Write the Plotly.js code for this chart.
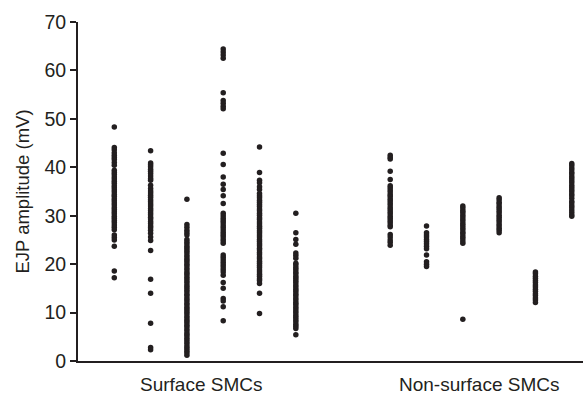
<!DOCTYPE html>
<html>
<head>
<meta charset="utf-8">
<script src="https://cdn.plot.ly/plotly-3.0.1.min.js"></script>
<style>
  html, body { margin: 0; padding: 0; background: #fff; }
  #chart { width: 583px; height: 398px; }
</style>
</head>
<body>
<div id="chart"></div>
<script>
// Group labels
const groups = ["Surface SMCs", "Non-surface SMCs"];

// Surface SMCs – EJP amplitudes (mV), one array per cell
const surface1 = [48.3, 44.1, 43.6, 43.0, 42.5, 42.0, 41.6, 41.0, 40.4, 39.4, 38.9, 38.5, 38.0, 37.6,
  37.1, 36.7, 36.2, 35.8, 35.3, 34.9, 34.4, 34.0, 33.5, 33.1, 32.6, 32.2, 31.7, 31.3, 30.8, 30.4,
  29.9, 29.5, 29.0, 28.6, 28.1, 27.6, 27.1, 26.0, 25.5, 25.0, 23.7, 18.6, 17.2];
const surface2 = [43.4, 40.9, 40.5, 40.1, 39.6, 39.2, 38.7, 38.2, 37.7, 37.3, 36.3, 35.6, 35.1, 34.7,
  34.2, 33.8, 33.3, 32.9, 32.4, 32.0, 31.5, 31.1, 30.6, 30.2, 29.7, 29.3, 28.8, 28.4, 27.9, 27.5,
  27.0, 26.4, 25.6, 24.9, 22.8, 16.9, 14.0, 7.8, 2.8, 2.3];
const surface3 = [33.4, 28.2, 27.6, 27.0, 26.5, 26.0, 25.1, 24.6, 24.2, 23.7, 23.3, 22.8, 22.4, 21.9,
  21.5, 21.0, 20.6, 20.1, 19.7, 19.2, 18.8, 18.3, 17.9, 17.4, 17.0, 16.5, 16.1, 15.6, 15.2, 14.7,
  14.3, 13.8, 13.4, 12.9, 12.5, 12.0, 11.6, 11.1, 10.7, 10.2, 9.8, 9.3, 8.9, 8.4, 8.0, 7.5, 7.1,
  6.6, 6.2, 5.7, 5.3, 4.8, 4.4, 3.9, 3.5, 3.0, 2.6, 2.1, 1.7, 1.2];
const surface4 = [64.4, 63.8, 63.2, 62.5, 55.4, 53.8, 53.2, 52.6, 52.1, 42.9, 40.6, 38.0, 36.5, 35.4,
  34.1, 32.5, 30.5, 30.0, 29.5, 29.0, 28.6, 28.1, 27.6, 27.1, 26.6, 26.1, 25.7, 25.2, 24.8, 24.3,
  21.9, 21.4, 20.9, 20.4, 19.9, 19.4, 18.9, 18.4, 17.7, 16.2, 15.0, 12.9, 12.4, 11.2, 8.3];
const surface5 = [44.2, 38.9, 37.3, 36.8, 36.0, 35.4, 34.6, 34.1, 33.7, 33.2, 32.8, 32.3, 31.9, 31.4,
  31.0, 30.5, 30.1, 29.6, 29.2, 28.7, 28.3, 27.8, 27.4, 26.9, 26.5, 26.0, 25.6, 25.1, 24.7, 24.2,
  23.8, 23.3, 22.9, 22.4, 22.0, 21.5, 21.1, 20.6, 20.2, 19.7, 19.3, 18.8, 18.4, 17.9, 17.5, 17.0,
  16.6, 16.0, 14.0, 9.8];
const surface6 = [30.5, 26.5, 25.1, 24.1, 22.3, 21.8, 21.2, 20.2, 19.8, 19.3, 18.9, 18.4, 18.0, 17.5,
  17.1, 16.6, 16.2, 15.7, 15.3, 14.8, 14.4, 13.9, 13.5, 13.0, 12.6, 12.1, 11.7, 11.2, 10.8, 10.3,
  9.9, 9.4, 9.0, 8.5, 8.1, 7.6, 7.2, 6.7, 5.4];

// Non-surface SMCs – EJP amplitudes (mV)
const nonsurface1 = [42.5, 42.0, 41.7, 39.2, 37.5, 36.2, 35.8, 35.3, 34.9, 34.4, 34.0, 33.5, 33.1, 32.6,
  32.2, 31.7, 31.3, 30.8, 30.4, 29.9, 29.5, 29.0, 28.6, 28.1, 27.7, 26.1, 25.6, 25.0, 24.5, 23.9];
const nonsurface2 = [27.9, 26.5, 26.0, 25.6, 25.1, 24.7, 24.2, 23.7, 23.2, 21.9, 20.5, 20.0, 19.5];
const nonsurface3 = [32.0, 31.6, 31.1, 30.7, 30.2, 29.8, 29.3, 28.9, 28.4, 28.0, 27.5, 27.1, 26.6,
  26.2, 25.7, 25.3, 24.8, 24.3, 8.6];
const nonsurface4 = [33.7, 33.3, 32.8, 32.4, 31.9, 31.5, 31.0, 30.6, 30.1, 29.7, 29.2, 28.8, 28.3,
  27.9, 27.4, 27.0, 26.5];
const nonsurface5 = [18.4, 18.0, 17.5, 17.1, 16.6, 16.2, 15.7, 15.3, 14.8, 14.4, 13.9, 13.5, 13.0,
  12.6, 12.1];
const nonsurface6 = [40.8, 40.4, 39.9, 39.5, 39.0, 38.6, 38.1, 37.7, 37.2, 36.8, 36.3, 35.9, 35.4,
  35.0, 34.5, 34.1, 33.6, 33.0, 32.6, 32.1, 31.7, 31.2, 30.7, 30.2, 29.9];

const yTicks = [0, 10, 20, 30, 40, 50, 60, 70];

const surfaceSets = [surface1, surface2, surface3, surface4, surface5, surface6];
const nonSurfaceSets = [nonsurface1, nonsurface2, nonsurface3, nonsurface4, nonsurface5, nonsurface6];

const dotColor = "#231f20";
const traces = [];
function addColumn(vals, xpos) {
  traces.push({
    type: "scatter", mode: "markers",
    x: vals.map(() => xpos), y: vals,
    marker: { size: 5.5, color: dotColor },
    hoverinfo: "y", showlegend: false
  });
}
surfaceSets.forEach((v, i) => addColumn(v, 1 + i));
nonSurfaceSets.forEach((v, i) => addColumn(v, 8.6 + i));

const layout = {
  width: 583, height: 398,
  margin: { l: 78, r: 0, t: 22, b: 37, pad: 0 },
  paper_bgcolor: "#fff", plot_bgcolor: "#fff",
  font: { family: "Liberation Sans, Arial, sans-serif", color: dotColor, size: 19 },
  showlegend: false,
  xaxis: {
    range: [0, 13.91], showgrid: false, zeroline: false,
    showline: true, linecolor: dotColor, linewidth: 2,
    showticklabels: false, ticks: "", fixedrange: true
  },
  yaxis: {
    range: [0, 70], tickvals: yTicks, ticktext: yTicks.map(String),
    showgrid: false, zeroline: false,
    showline: true, linecolor: dotColor, linewidth: 2,
    ticks: "outside", ticklen: 6, tickwidth: 2, tickcolor: dotColor,
    tickfont: { size: 19.5, color: dotColor },
    title: { text: "EJP amplitude (mV)", font: { size: 18.5, color: dotColor }, standoff: 10 },
    fixedrange: true
  },
  annotations: [
    { text: groups[0], x: 3.39, xref: "x", y: -0.07, yref: "paper", showarrow: false,
      yanchor: "middle", font: { size: 19, color: dotColor } },
    { text: groups[1], x: 11.07, xref: "x", y: -0.07, yref: "paper", showarrow: false,
      yanchor: "middle", font: { size: 19, color: dotColor } }
  ]
};

Plotly.newPlot("chart", traces, layout, { displayModeBar: false, staticPlot: true });
</script>
</body>
</html>
